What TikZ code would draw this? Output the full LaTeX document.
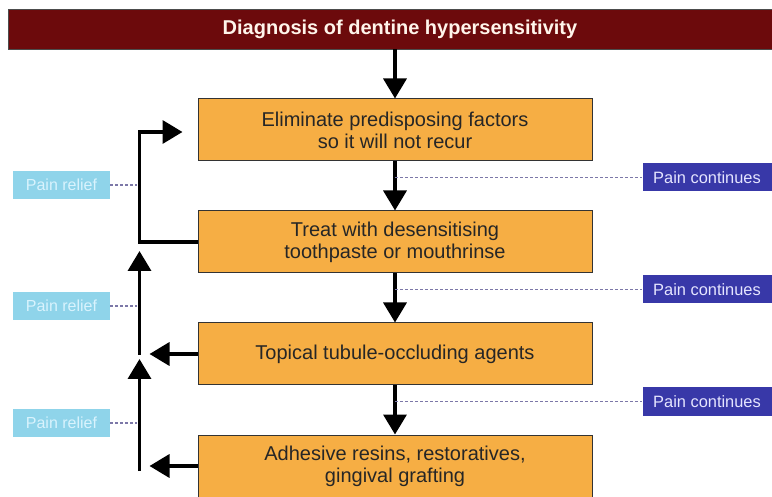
\documentclass[tikz,border=0pt]{standalone}
\usepackage{fontspec}
\setmainfont{Liberation Sans}
\usetikzlibrary{positioning,arrows.meta}

\definecolor{maroon}{HTML}{6C0A0C}
\definecolor{boxorange}{HTML}{F6AE44}
\definecolor{contblue}{HTML}{3838A8}
\definecolor{reliefblue}{HTML}{8FD4EA}
\definecolor{dashgray}{HTML}{7C78A8}

\begin{document}
\begin{tikzpicture}[
        node distance=112pt,
        title/.style={rectangle, minimum width=784pt, minimum height=40pt, fill=maroon, draw=black!70, line width=0.6pt, text=white!92!orange, font=\fontsize{20}{22}\selectfont\bfseries},
        stepbox/.style={rectangle, minimum width=394pt, minimum height=62pt, align=center, draw=black!80, line width=1pt, fill=boxorange, text=black!85, font=\fontsize{20}{22}\selectfont},
        contbox/.style={rectangle, minimum width=129pt, minimum height=28pt, fill=contblue, text=white!90!blue, font=\fontsize{16.4}{18}\selectfont},
        reliefbox/.style={rectangle, minimum width=97pt, minimum height=28pt, fill=reliefblue, text=white!85!cyan, font=\fontsize{16}{18}\selectfont},
        arrow/.style={line width=3.5pt, -{Triangle[width=23pt,length=20pt]}},
        dashline/.style={dashgray, line width=1.2pt, dash pattern=on 3pt off 2pt}
    ]
        \useasboundingbox (0,0) rectangle (772pt,-497pt);

        % Title
        \node (diag) [title] at (400pt,-29pt) {Diagnosis of dentine hypersensitivity};

        % Treatment steps
        \node (elim) [stepbox, below of=diag, xshift=-5pt, yshift=11pt] {Eliminate predisposing factors\\so it will not recur};
        \node (treat) [stepbox, below of=elim] {Treat with desensitising\\toothpaste or mouthrinse};
        \node (topical) [stepbox, below of=treat] {Topical tubule-occluding agents};
        \node (adhesive) [stepbox, below of=topical] {Adhesive resins, restoratives,\\gingival grafting};

        % Pain continues
        \node (cont1) [contbox] at ([xshift=312pt,yshift=-16pt]elim.south) {Pain continues};
        \node (cont2) [contbox] at ([xshift=312pt,yshift=-16pt]treat.south) {Pain continues};
        \node (cont3) [contbox] at ([xshift=312pt,yshift=-16pt]topical.south) {Pain continues};

        % Junctions on the left
        \coordinate[left=58pt of treat.west] (corner);
        \coordinate[left=58pt of topical.west] (mid3);
        \coordinate[left=58pt of adhesive.west] (mid4);

        % Pain relief
        \node (relief1) [reliefbox] at ([xshift=-78pt,yshift=57pt]corner) {Pain relief};
        \node (relief2) [reliefbox] at ([xshift=-78pt,yshift=48pt]mid3) {Pain relief};
        \node (relief3) [reliefbox] at ([xshift=-78pt,yshift=43pt]mid4) {Pain relief};

        % Main flow
        \draw[arrow] (diag.south -| elim.north) -- (elim);
        \draw[arrow] (elim) -- (treat);
        \draw[arrow] (treat) -- (topical);
        \draw[arrow] (topical) -- (adhesive);

        % Return paths
        \draw[arrow] (treat.west) -- (corner) |- ([xshift=-15pt,yshift=-2pt]elim.west);
        \draw[arrow] (topical.west) -- ([xshift=10pt]mid3);
        \draw[arrow] (adhesive.west) -- ([xshift=10pt]mid4);
        \draw[arrow] ([yshift=-1pt]mid3) -- ([yshift=-9pt]corner);
        \draw[arrow] ([yshift=-5pt]mid4) -- ([yshift=-5pt]mid3);

        % Dashed links
        \draw[dashline] (cont1.west -| elim.south) -- (cont1.west);
        \draw[dashline] (cont2.west -| treat.south) -- (cont2.west);
        \draw[dashline] (cont3.west -| topical.south) -- (cont3.west);
        \draw[dashline, shorten >=3pt] (relief1.east) -- (relief1.east -| corner);
        \draw[dashline, shorten >=3pt] (relief2.east) -- (relief2.east -| corner);
        \draw[dashline, shorten >=3pt] (relief3.east) -- (relief3.east -| corner);
    \end{tikzpicture}
\end{document}
